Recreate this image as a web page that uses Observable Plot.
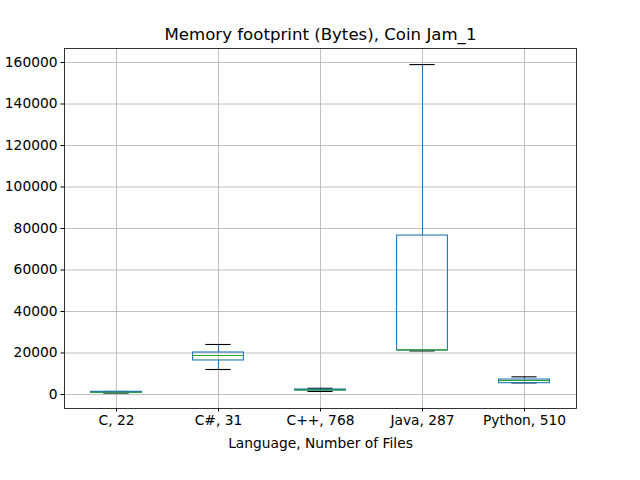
<!DOCTYPE html>
<html>
<head>
<meta charset="utf-8">
<script src="https://cdn.jsdelivr.net/npm/d3@7"></script>
<script src="https://cdn.jsdelivr.net/npm/@observablehq/plot@0.6"></script>
<style>
  body { margin: 0; background: white; }
  svg { font-family: "DejaVu Sans", sans-serif; }
</style>
</head>
<body>
<div id="chart"></div>
<script>
const categories = ["C, 22", "C#, 31", "C++, 768", "Java, 287", "Python, 510"];
const whiskerLow = [700, 12050, 1450, 21000, 5600];
const q1 = [850, 16400, 1900, 21200, 5450];
const median = [1100, 18800, 2200, 21500, 6750];
const q3 = [1300, 20240, 2400, 76600, 7200];
const whiskerHigh = [1450, 24100, 3000, 159000, 8500];
const yTicks = [0, 20000, 40000, 60000, 80000, 100000, 120000, 140000, 160000];

const data = categories.map((c, i) => ({
  cat: c, lo: whiskerLow[i], q1: q1[i], med: median[i], q3: q3[i], hi: whiskerHigh[i]
}));

const chart = Plot.plot({
  width: 640,
  height: 480,
  marginLeft: 64,
  marginRight: 64,
  marginTop: 48,
  marginBottom: 72,
  style: { fontFamily: "DejaVu Sans, sans-serif", fontSize: "13.8px", color: "black", background: "white" },
  x: { type: "band", domain: categories, padding: 0, label: null },
  y: { domain: [-6750, 166750], label: null },
  marks: [
    Plot.ruleX(categories, { x: d => d, stroke: "#b0b0b0", strokeWidth: 0.8 }),
    Plot.ruleY(yTicks, { y: d => d, stroke: "#b0b0b0", strokeWidth: 0.8 }),
    Plot.ruleX(data, { x: "cat", y1: "lo", y2: "q1", stroke: "#1f77b4", strokeWidth: 1.1 }),
    Plot.ruleX(data, { x: "cat", y1: "q3", y2: "hi", stroke: "#1f77b4", strokeWidth: 1.1 }),
    Plot.tickY(data, { x: "cat", y: "lo", stroke: "black", strokeWidth: 1.1, insetLeft: 38.4, insetRight: 38.4 }),
    Plot.tickY(data, { x: "cat", y: "hi", stroke: "black", strokeWidth: 1.1, insetLeft: 38.4, insetRight: 38.4 }),
    Plot.rect(data, { x: "cat", y1: "q1", y2: "q3", fill: "none", stroke: "#1f77b4", strokeWidth: 1.1, insetLeft: 25.6, insetRight: 25.6 }),
    Plot.tickY(data, { x: "cat", y: "med", stroke: "#2ca02c", strokeWidth: 1.1, insetLeft: 25.6, insetRight: 25.6 }),
    Plot.frame({ stroke: "black", strokeWidth: 0.8 }),
    Plot.axisX({ tickSize: 3.5, tickPadding: 3.5, fontSize: 13.8, label: null, stroke: "black" }),
    Plot.axisY(yTicks, { tickSize: 3.5, tickPadding: 3.5, fontSize: 13.8, label: null, tickFormat: d => String(d) }),
    Plot.text(["Memory footprint (Bytes), Coin Jam_1"], { frameAnchor: "top", lineAnchor: "middle", dy: -14, fontSize: 16.6, fill: "black" }),
    Plot.text(["Language, Number of Files"], { frameAnchor: "bottom", lineAnchor: "middle", dy: 35, fontSize: 13.8, fill: "black" })
  ]
});
document.getElementById("chart").appendChild(chart);
</script>
</body>
</html>
